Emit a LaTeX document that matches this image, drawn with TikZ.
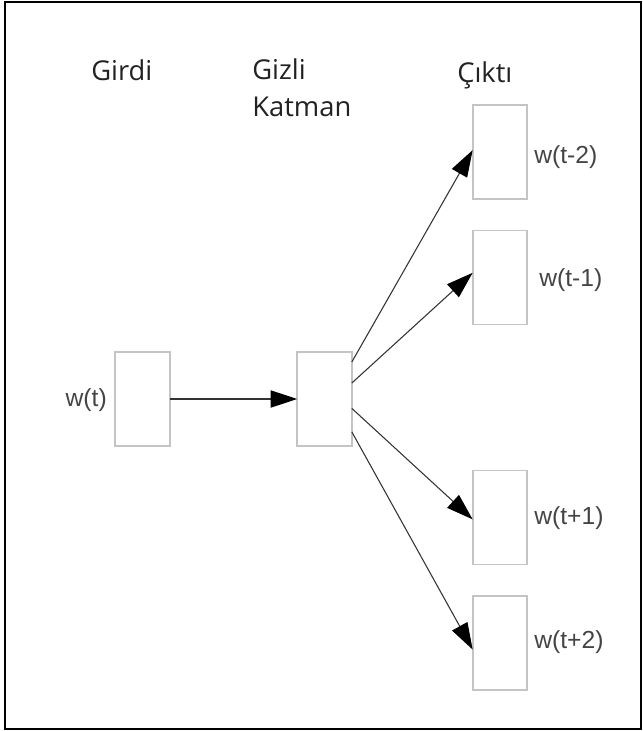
\documentclass[tikz,border=0pt]{standalone}
\usepackage{fontspec}
\setmainfont{Open Sans}
\newfontfamily\labelfont{Liberation Sans}
\usetikzlibrary{arrows.meta,calc}
\definecolor{boxgray}{HTML}{C4C4C4}
\definecolor{headtext}{HTML}{222222}
\definecolor{labtext}{HTML}{444444}
\definecolor{arrowgray}{HTML}{333333}
\begin{document}
\begin{tikzpicture}[x=0.75pt,y=-0.75pt,
  unit/.style={draw=boxgray,line width=1.3pt,minimum width=41pt,minimum height=70.5pt,inner sep=0pt,outer sep=0pt,fill=white},
  head/.style={font=\fontsize{20.5}{27.75}\selectfont,text=headtext,inner sep=0pt,anchor=base west},
  lab/.style={font=\labelfont\fontsize{18.5}{22}\selectfont,text=labtext,inner sep=0pt},
  conn/.style={draw=arrowgray,line width=0.8pt,-{Triangle[length=20pt,width=13pt,color=black]}}]
\useasboundingbox (0,0) rectangle (642,731);
\draw[line width=2.2pt] (5,2) -- (641,2) -- (641,729) -- (5,729) -- cycle;
% headings
\node[head] (hin) at (91,81) {Girdi};
\node[head] (hhid1) at (252,80) {Gizli};
\node[head] (hhid2) at (252,117) {Katman};
\node[head] (hout) at (457,83) {Çıktı};
% boxes
\node[unit] (in) at (142.5,399) {};
\node[unit] (hid) at (324.5,399) {};
\node[unit] (o1) at (500,152) {};
\node[unit] (o2) at (500,277.5) {};
\node[unit] (o3) at (500,517.5) {};
\node[unit] (o4) at (500,643) {};
% labels
\node[lab,anchor=base east] (lin) at (107,406) {w(t)};
\node[lab,anchor=base west] (l1) at (534,164) {w(t-2)};
\node[lab,anchor=base west] (l2) at (539,286) {w(t-1)};
\node[lab,anchor=base west] (l3) at (534,524) {w(t+1)};
\node[lab,anchor=base west] (l4) at (534,648) {w(t+2)};
% connectors
\draw[conn] (in.east) -- (hid.west);
\draw[conn] ($(hid.north east)!0.106!(hid.south east)$) -- ($(o1.north west)!0.48!(o1.south west)$);
\draw[conn] ($(hid.north east)!0.33!(hid.south east)$) -- ($(o2.north west)!0.45!(o2.south west)$);
\draw[conn] ($(hid.north east)!0.6!(hid.south east)$) -- ($(o3.north west)!0.52!(o3.south west)$);
\draw[conn] ($(hid.north east)!0.85!(hid.south east)$) -- ($(o4.north west)!0.57!(o4.south west)$);
\end{tikzpicture}
\end{document}
